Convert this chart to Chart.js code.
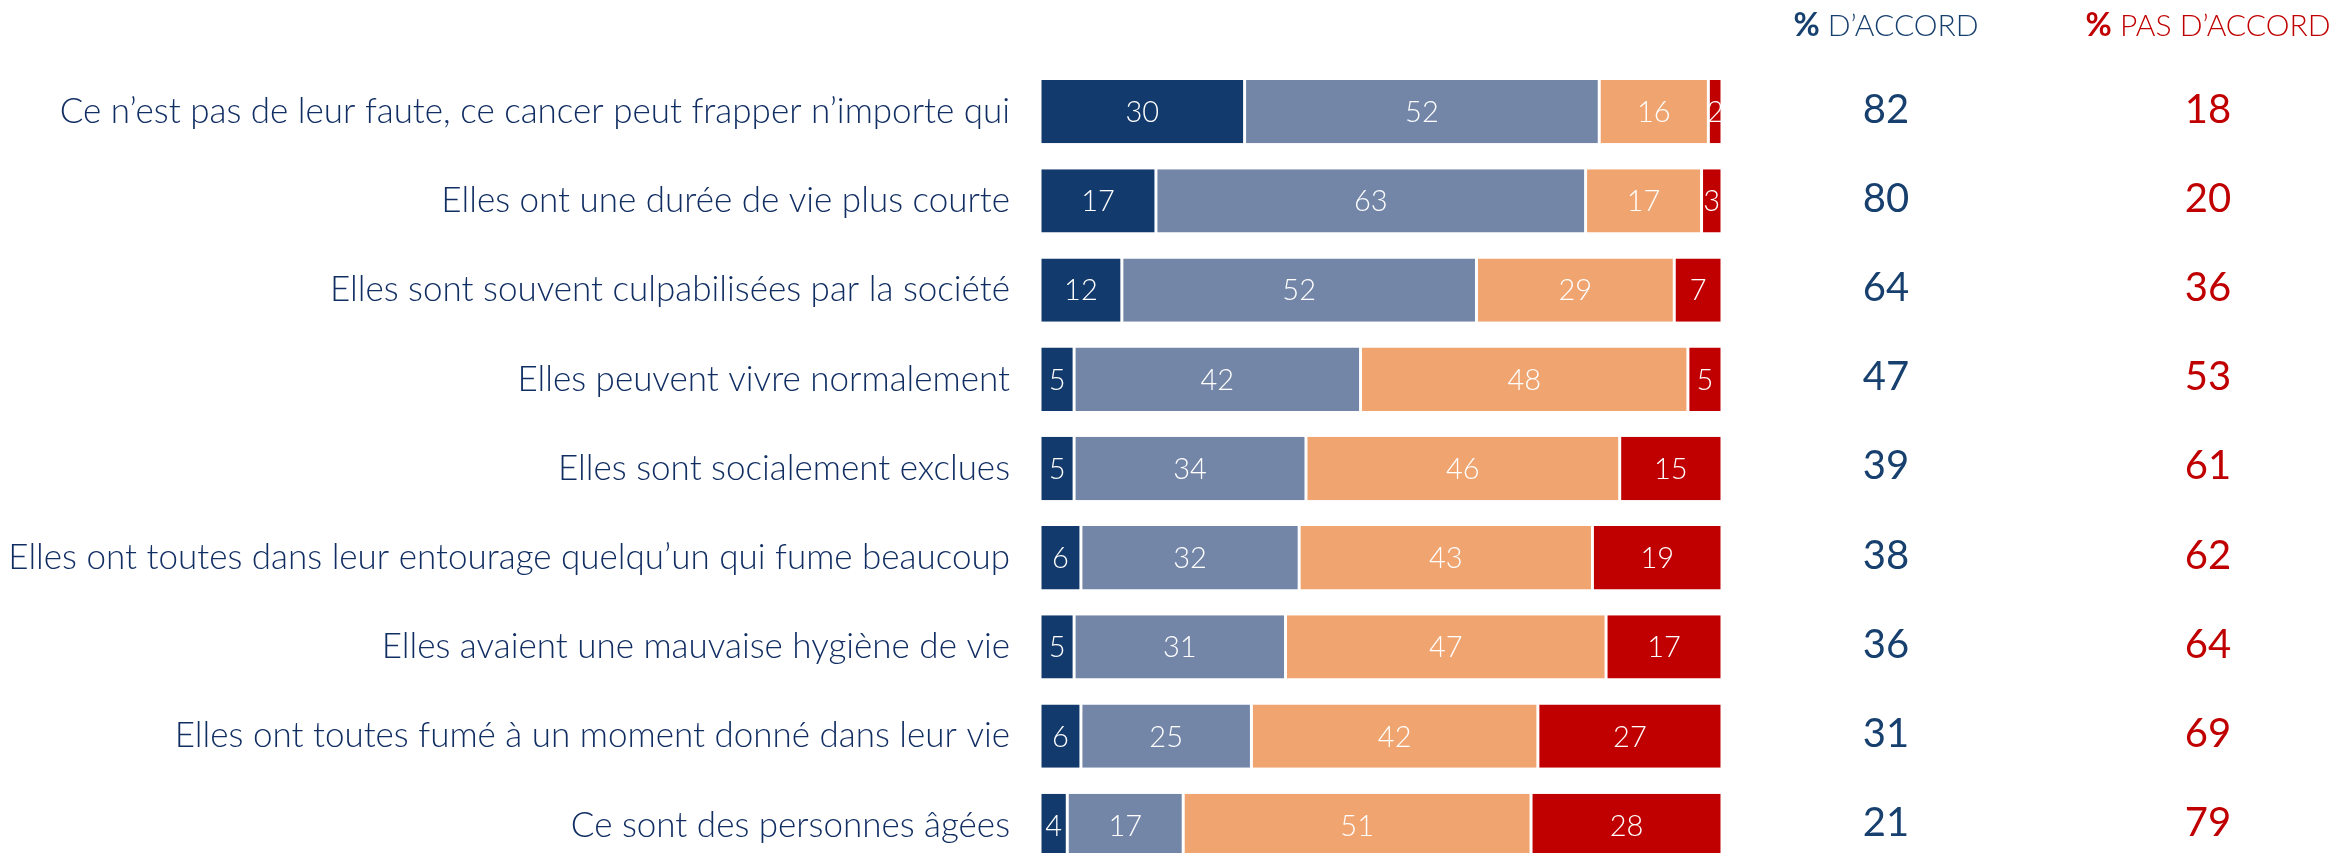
<!DOCTYPE html>
<html lang="fr">
<head>
  <meta charset="UTF-8" />
  <title>Perception des personnes atteintes</title>
  <style>
    * { box-sizing: border-box; }
    body {
      margin: 0;
      background: #fff;
      overflow: hidden;
    }
    canvas { display: block; }
  </style>
</head>
<body>
  <canvas id="chart" width="2351" height="880"></canvas>

  <script src="https://cdn.jsdelivr.net/npm/chart.js"></script>
  <script>
    const categories = [
      'Ce n\u2019est pas de leur faute, ce cancer peut frapper n\u2019importe qui',
      'Elles ont une durée de vie plus courte',
      'Elles sont souvent culpabilisées par la société',
      'Elles peuvent vivre normalement',
      'Elles sont socialement exclues',
      'Elles ont toutes dans leur entourage quelqu\u2019un qui fume beaucoup',
      'Elles avaient une mauvaise hygiène de vie',
      'Elles ont toutes fumé à un moment donné dans leur vie',
      'Ce sont des personnes âgées'
    ];

    // stacked segments, from "tout à fait d'accord" to "pas du tout d'accord"
    const toutAFait = [30, 17, 12, 5, 5, 6, 5, 6, 4];
    const plutot = [52, 63, 52, 42, 34, 32, 31, 25, 17];
    const plutotPas = [16, 17, 29, 48, 46, 43, 47, 42, 51];
    const pasDuTout = [2, 3, 7, 5, 15, 19, 17, 27, 28];

    const totalAccord = [82, 80, 64, 47, 39, 38, 36, 31, 21];
    const totalPasAccord = [18, 20, 36, 53, 61, 62, 64, 69, 79];

    const NAVY = '#123a6c';
    const RED = '#c00000';
    const FONT = 'Lato, "Open Sans", sans-serif';

    // white numbers inside each segment
    const segmentLabels = {
      id: 'segmentLabels',
      afterDatasetsDraw(chart) {
        const ctx = chart.ctx;
        ctx.save();
        ctx.font = '300 29px ' + FONT;
        ctx.fillStyle = '#fff';
        ctx.textAlign = 'center';
        ctx.textBaseline = 'middle';
        chart.data.datasets.forEach((ds, i) => {
          chart.getDatasetMeta(i).data.forEach((bar, j) => {
            const p = bar.getCenterPoint();
            ctx.fillText(String(ds.data[j]), p.x, p.y + 1);
          });
        });
        ctx.restore();
      }
    };

    // the two total columns on the right, with their headers
    const totalsColumns = {
      id: 'totalsColumns',
      afterDraw(chart) {
        const ctx = chart.ctx;
        const y = chart.scales.y;
        const cols = [
          { x: 1886, values: totalAccord, color: '#17406f', head: ' D\u2019ACCORD' },
          { x: 2208, values: totalPasAccord, color: RED, head: ' PAS D\u2019ACCORD' }
        ];
        ctx.save();
        cols.forEach(c => {
          // header: bold "%" followed by light text
          const fBold = 'bold 32px ' + FONT;
          const fLight = '300 30px ' + FONT;
          ctx.font = fBold;
          const w1 = ctx.measureText('%').width;
          ctx.font = fLight;
          const w2 = ctx.measureText(c.head).width;
          let x0 = c.x - (w1 + w2) / 2;
          ctx.fillStyle = c.color;
          ctx.textAlign = 'left';
          ctx.textBaseline = 'alphabetic';
          ctx.font = fBold;
          ctx.fillText('%', x0, 36);
          ctx.font = fLight;
          ctx.fillText(c.head, x0 + w1, 36);

          ctx.font = '40px ' + FONT;
          ctx.textAlign = 'center';
          ctx.textBaseline = 'middle';
          c.values.forEach((v, i) => {
            ctx.fillText(String(v), c.x, y.getPixelForValue(i) - 2);
          });
        });
        ctx.restore();
      }
    };

    const seg = (label, data, color) => ({
      label: label,
      data: data,
      backgroundColor: color,
      borderColor: '#fff',
      borderWidth: { left: 1.5, right: 1.5, top: 0, bottom: 0 },
      borderSkipped: false,
      barPercentage: 0.71,
      categoryPercentage: 1
    });

    new Chart(document.getElementById('chart'), {
      type: 'bar',
      data: {
        labels: categories,
        datasets: [
          seg('Tout à fait d\u2019accord', toutAFait, NAVY),
          seg('Plutôt d\u2019accord', plutot, '#7386a8'),
          seg('Plutôt pas d\u2019accord', plutotPas, '#f0a46f'),
          seg('Pas du tout d\u2019accord', pasDuTout, RED)
        ]
      },
      options: {
        indexAxis: 'y',
        responsive: false,
        animation: false,
        layout: {
          padding: { left: 0, right: 629, top: 67, bottom: 10 }
        },
        plugins: {
          legend: { display: false },
          tooltip: { enabled: false }
        },
        scales: {
          x: {
            stacked: true,
            min: 0,
            max: 100,
            display: false
          },
          y: {
            stacked: true,
            afterFit: (scale) => {
              scale.width = 1040;
              // no extra room above/below for the big labels
              scale.paddingTop = 0;
              scale.paddingBottom = 0;
            },
            border: { display: false },
            grid: { display: false, drawTicks: false },
            ticks: {
              padding: 30,
              color: '#112e63',
              font: { family: FONT, size: 35, weight: '300' }
            }
          }
        }
      },
      plugins: [segmentLabels, totalsColumns]
    });
  </script>
</body>
</html>
